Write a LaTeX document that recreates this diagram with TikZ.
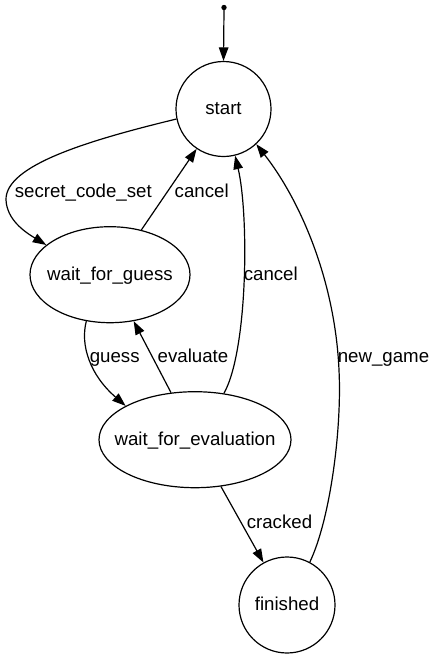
\documentclass[tikz,border=0pt]{standalone}
\usepackage{fontspec}
\setmainfont{Liberation Sans}
\usetikzlibrary{shapes.geometric,arrows.meta}
\begin{document}
\begin{tikzpicture}[x=1pt,y=-1pt,
  every node/.style={font=\fontsize{18.67}{22}\selectfont, text height=11pt, text depth=0pt, inner sep=0pt},
  state/.style={draw, line width=1.2pt, circle, minimum size=95pt},
  estate/.style={draw, line width=1.2pt, ellipse, inner xsep=-40pt},
  conn/.style={line width=1.2pt, -{Triangle[length=13.5pt,width=9.5pt]}},
  lbl/.style={anchor=center}]
\useasboundingbox (0,0) rectangle (437,659);
\fill (224,7.5) circle (2.7pt);
\coordinate (init) at (224,10);
\node[state] (start) at (223.5,109) {start};
\node[estate, minimum width=160pt, minimum height=96pt] (wfg) at (110,274.7) {wait\_for\_guess};
\node[estate, minimum width=192pt, minimum height=96pt] (wfe) at (195,439.7) {wait\_for\_evaluation};
\node[state, minimum size=96pt] (fin) at (287,605) {finished};

\draw[conn] (init) -- (start.north);
\draw[conn] (start.192) .. controls (90,140) and (5,165) .. (6,200)
  .. controls (7,220) and (25,232) .. (wfg.155.6);
\draw[conn] (wfg.55.7) -- (start.236);
\draw[conn] (wfe.58) .. controls (248,350) and (249,215) .. (start.284);
\draw[conn] (fin.62) .. controls (330,520) and (342,430) .. (339,370)
  .. controls (335,280) and (300,200) .. (start.313);
\draw[conn] (wfg.243.1) .. controls (80,345) and (90,375) .. (wfe.154.8);
\draw[conn] (wfe.117.3) -- (wfg.297.9);
\draw[conn] (wfe.299.3) -- (fin.119.3);

\node[lbl] (l1) at (83.3,191.7) {secret\_code\_set};
\node[lbl] (l2) at (201.7,191.7) {cancel};
\node[lbl] (l3) at (270.8,275) {cancel};
\node[lbl] (l4) at (383.5,356.7) {new\_game};
\node[lbl] (l5) at (114.7,356.7) {guess};
\node[lbl] (l6) at (193,356.7) {evaluate};
\node[lbl] (l7) at (279.5,522.7) {cracked};
\end{tikzpicture}
\end{document}
